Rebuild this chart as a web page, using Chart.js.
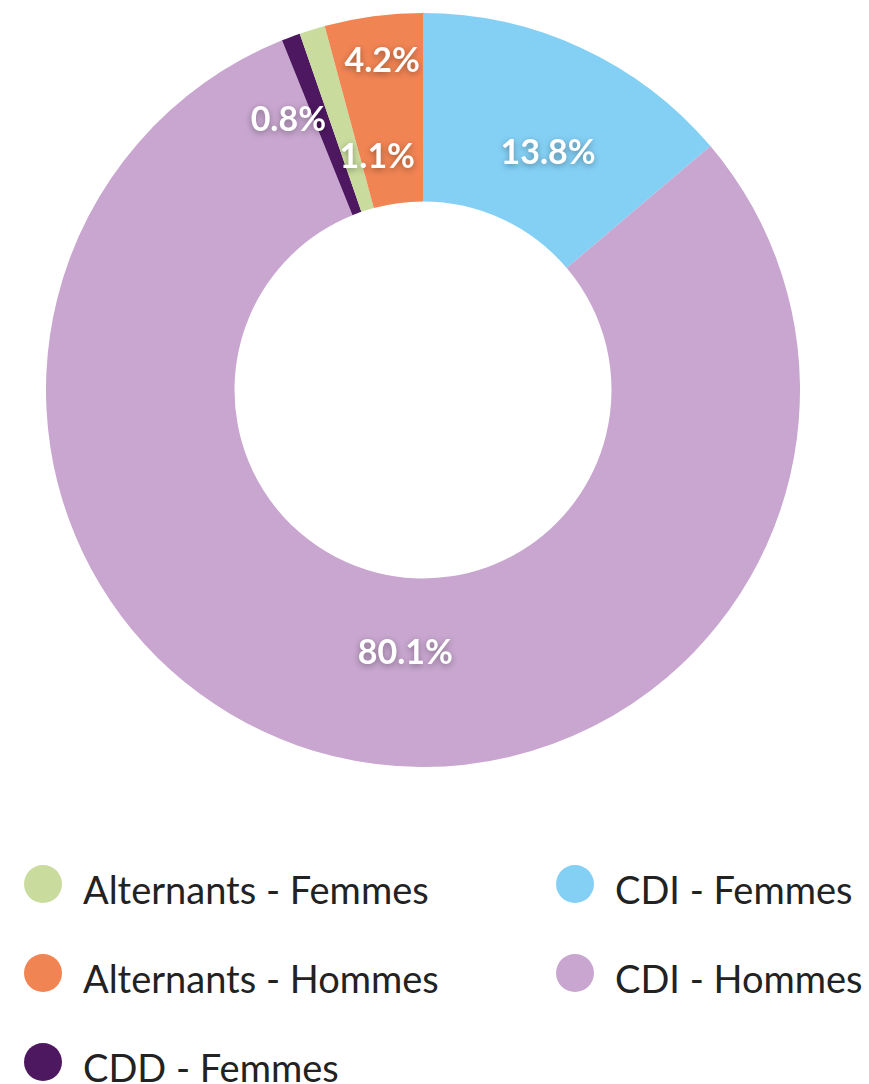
<!DOCTYPE html>
<html lang="fr">
<head>
<meta charset="utf-8">
<script src="https://cdn.jsdelivr.net/npm/chart.js@4.4.1/dist/chart.umd.min.js"></script>
<style>
    body { margin: 0; background: #fff; font-family: Lato, sans-serif; }
    #wrap { position: relative; width: 869px; height: 1084px; }
    #chart-box { position: absolute; left: 0; top: 0; width: 869px; height: 780px; }
    #legend {
        position: absolute; left: 0; top: 839px;
        display: grid;
        grid-template-columns: 532px 337px;
        grid-template-rows: repeat(3, 89px);
        grid-auto-flow: column;
    }
    .leg-item { display: flex; align-items: center; height: 89px; }
    .leg-dot { width: 38px; height: 38px; border-radius: 50%; margin-left: 24px; margin-right: 21px; flex: none; }
    .leg-text { font-size: 38px; color: #222; white-space: nowrap; position: relative; top: 5px; }
</style>
</head>
<body>
<div id="wrap">
    <div id="chart-box"><canvas id="donut"></canvas></div>
    <div id="legend"></div>
</div>

<script>
// data, in drawing order (clockwise from the top)
const labels = ['CDI - Femmes', 'CDI - Hommes', 'CDD - Femmes', 'Alternants - Femmes', 'Alternants - Hommes'];
const values = [13.8, 80.1, 0.8, 1.1, 4.2];
const colors = ['#84d0f5', '#c8a6cf', '#4e1860', '#c9dc9e', '#f08453'];

// legend order (alphabetical, like the original)
const legendOrder = ['Alternants - Femmes', 'Alternants - Hommes', 'CDD - Femmes', 'CDI - Femmes', 'CDI - Hommes'];

/*-------- percentage labels inside the slices --------*/
// small nudges so the thin slices don't overlap their labels
const labelTweaks = [
    { da: 3, rf: 0.71 },
    { da: -10, rf: 0.70 },
    { da: -6, rf: 0.80 },
    { da: 6, rf: 0.63 },
    { da: 0.5, rf: 0.88 }
];

const sliceLabels = {
    id: 'sliceLabels',
    afterDatasetsDraw(chart) {
        const ctx = chart.ctx;
        const meta = chart.getDatasetMeta(0);
        ctx.save();
        ctx.font = 'bold 34px Lato, sans-serif';
        ctx.textAlign = 'center';
        ctx.textBaseline = 'middle';
        ctx.fillStyle = '#fff';
        ctx.shadowColor = 'rgba(0,0,0,0.35)';
        ctx.shadowBlur = 6;
        ctx.shadowOffsetY = 2;
        meta.data.forEach((arc, i) => {
            const p = arc.getProps(['x', 'y', 'startAngle', 'endAngle', 'outerRadius']);
            const tw = labelTweaks[i];
            const mid = (p.startAngle + p.endAngle) / 2 + tw.da * Math.PI / 180;
            const r = p.outerRadius * tw.rf;
            const x = p.x + Math.cos(mid) * r;
            const y = p.y + Math.sin(mid) * r;
            ctx.fillText(values[i].toFixed(1) + '%', x, y);
        });
        ctx.restore();
    }
};

const donut = new Chart(document.getElementById('donut'), {
    type: 'doughnut',
    data: {
        labels: labels,
        datasets: [{
            data: values,
            backgroundColor: colors,
            borderWidth: 0
        }]
    },
    options: {
        responsive: true,
        maintainAspectRatio: false,
        animation: false,
        cutout: '50%',
        layout: { padding: { top: 13, bottom: 13, left: 0, right: 23 } },
        plugins: {
            legend: { display: false },
            tooltip: { enabled: false }
        }
    },
    plugins: [sliceLabels]
});

/*-------- html legend --------*/
const legendBox = document.getElementById('legend');
legendOrder.forEach(name => {
    const i = labels.indexOf(name);
    const item = document.createElement('div');
    item.className = 'leg-item';
    item.innerHTML = '<span class="leg-dot" style="background:' + colors[i] + '"></span>' +
        '<span class="leg-text">' + name + '</span>';
    legendBox.appendChild(item);
});
</script>
</body>
</html>
